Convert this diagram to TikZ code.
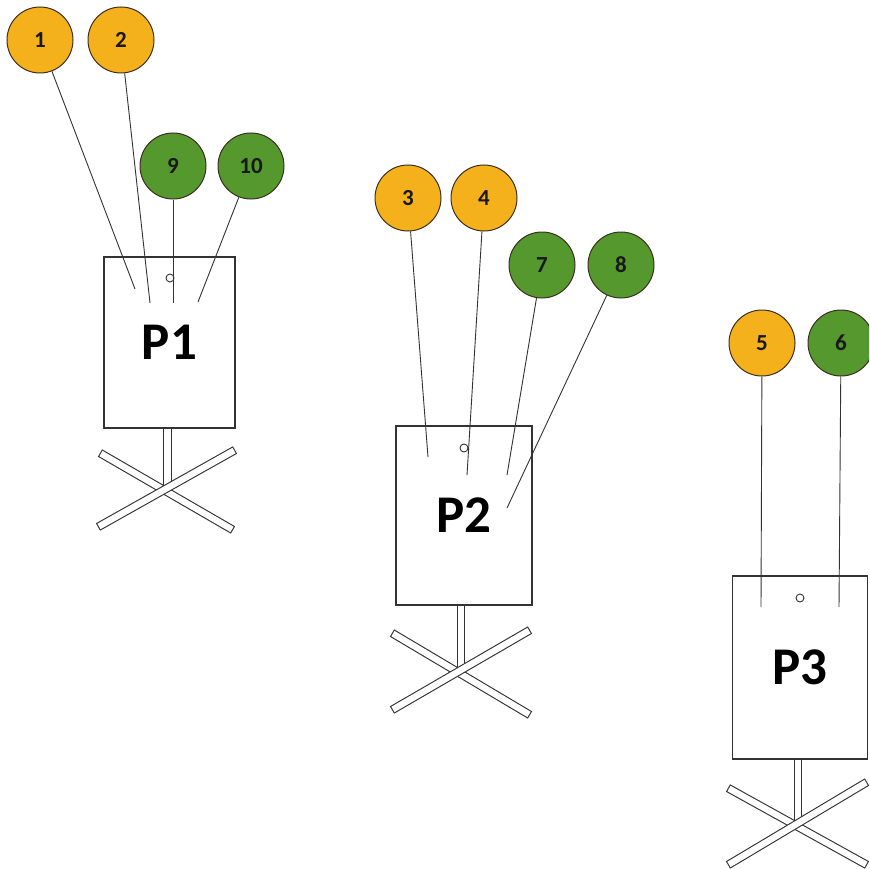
\documentclass[tikz,border=0pt]{standalone}
\usepackage{fontspec}
\setmainfont{Carlito}
\definecolor{ballorange}{HTML}{F5B11B}
\definecolor{ballgreen}{HTML}{55982E}
\definecolor{ballrim}{HTML}{3B3020}
\definecolor{inkgray}{HTML}{333333}
\begin{document}
\begin{tikzpicture}[x=1pt,y=-1pt,
  ball/.style={circle,draw=ballrim,line width=1pt,minimum size=66pt,inner sep=0pt,
    font=\fontsize{23}{23}\selectfont\bfseries,text=black!90},
  orangeball/.style={ball,fill=ballorange},
  greenball/.style={ball,fill=ballgreen},
  panel/.style={rectangle,draw=inkgray,line width=1.1pt,fill=white,inner sep=0pt,
    font=\fontsize{53}{53}\selectfont\bfseries},
  wire/.style={draw=inkgray,line width=0.9pt},
  hole/.style={circle,draw=inkgray,line width=0.9pt,minimum size=8pt,inner sep=0pt},
  barout/.style={draw=inkgray,line width=8.5pt},
  barin/.style={draw=white,line width=6.3pt,shorten <=1.1pt,shorten >=1.1pt}
]
\useasboundingbox (0,0) rectangle (869,869);
\begin{scope}
\clip (0,0) rectangle (869,869);

% ---------- P1 ----------
\coordinate (p1pt) at (167.5,428);
\coordinate (p1pb) at (167.5,490);
\draw[barout] (p1pt) -- (p1pb);
\draw[barin] (p1pt) -- (p1pb);
\coordinate (p1a) at (100,453); \coordinate (p1b) at (233,530);
\coordinate (p1c) at (98,527);  \coordinate (p1d) at (235,450);
\draw[barout] (p1a) -- (p1b); \draw[barin] (p1a) -- (p1b);
\draw[barout] (p1c) -- (p1d); \draw[barin] (p1c) -- (p1d);
\node[panel,minimum width=131pt,minimum height=171pt] (P1) at (169.5,342.5) {P1};
\node[hole] (h1) at (170,278) {};

\node[orangeball] (b1) at (40,40) {1};
\node[orangeball] (b2) at (121,40) {2};
\node[greenball] (b9) at (173,166) {9};
\node[greenball] (b10) at (251,166) {10};
\coordinate (e1) at (135,289);
\coordinate (e2) at (150,303);
\coordinate (e9) at (173,303);
\coordinate (e10) at (198,302);
\draw[wire] (b1) -- (e1);
\draw[wire] (b2) -- (e2);
\draw[wire] (b9) -- (e9);
\draw[wire] (b10) -- (e10);

% ---------- P2 ----------
\coordinate (p2pt) at (461,605);
\coordinate (p2pb) at (461,672);
\draw[barout] (p2pt) -- (p2pb);
\draw[barin] (p2pt) -- (p2pb);
\coordinate (p2a) at (392,633); \coordinate (p2b) at (530,715);
\coordinate (p2c) at (392,710); \coordinate (p2d) at (530,630);
\draw[barout] (p2a) -- (p2b); \draw[barin] (p2a) -- (p2b);
\draw[barout] (p2c) -- (p2d); \draw[barin] (p2c) -- (p2d);
\node[panel,minimum width=136pt,minimum height=179pt] (P2) at (464,515.5) {P2};
\node[hole] (h2) at (464,448) {};

\node[orangeball] (b3) at (408,198) {3};
\node[orangeball] (b4) at (484,198) {4};
\node[greenball] (b7) at (542,265) {7};
\node[greenball] (b8) at (621,265) {8};
\coordinate (e3) at (428,457);
\coordinate (e4) at (467,475);
\coordinate (e7) at (507,475);
\coordinate (e8) at (507,508);
\draw[wire] (b3) -- (e3);
\draw[wire] (b4) -- (e4);
\draw[wire] (b7) -- (e7);
\draw[wire] (b8) -- (e8);

% ---------- P3 ----------
\coordinate (p3pt) at (798,759);
\coordinate (p3pb) at (798,825);
\draw[barout] (p3pt) -- (p3pb);
\draw[barin] (p3pt) -- (p3pb);
\coordinate (p3a) at (728,788); \coordinate (p3b) at (867,865);
\coordinate (p3c) at (728,865); \coordinate (p3d) at (867,782);
\draw[barout] (p3a) -- (p3b); \draw[barin] (p3a) -- (p3b);
\draw[barout] (p3c) -- (p3d); \draw[barin] (p3c) -- (p3d);
\node[panel,minimum width=135pt,minimum height=183pt] (P3) at (800,667.5) {P3};
\node[hole] (h3) at (800,598) {};

\node[orangeball] (b5) at (762,343) {5};
\node[greenball] (b6) at (841,343) {6};
\coordinate (e5) at (761,607);
\coordinate (e6) at (839,607);
\draw[wire] (b5) -- (e5);
\draw[wire] (b6) -- (e6);
\end{scope}
\end{tikzpicture}
\end{document}
